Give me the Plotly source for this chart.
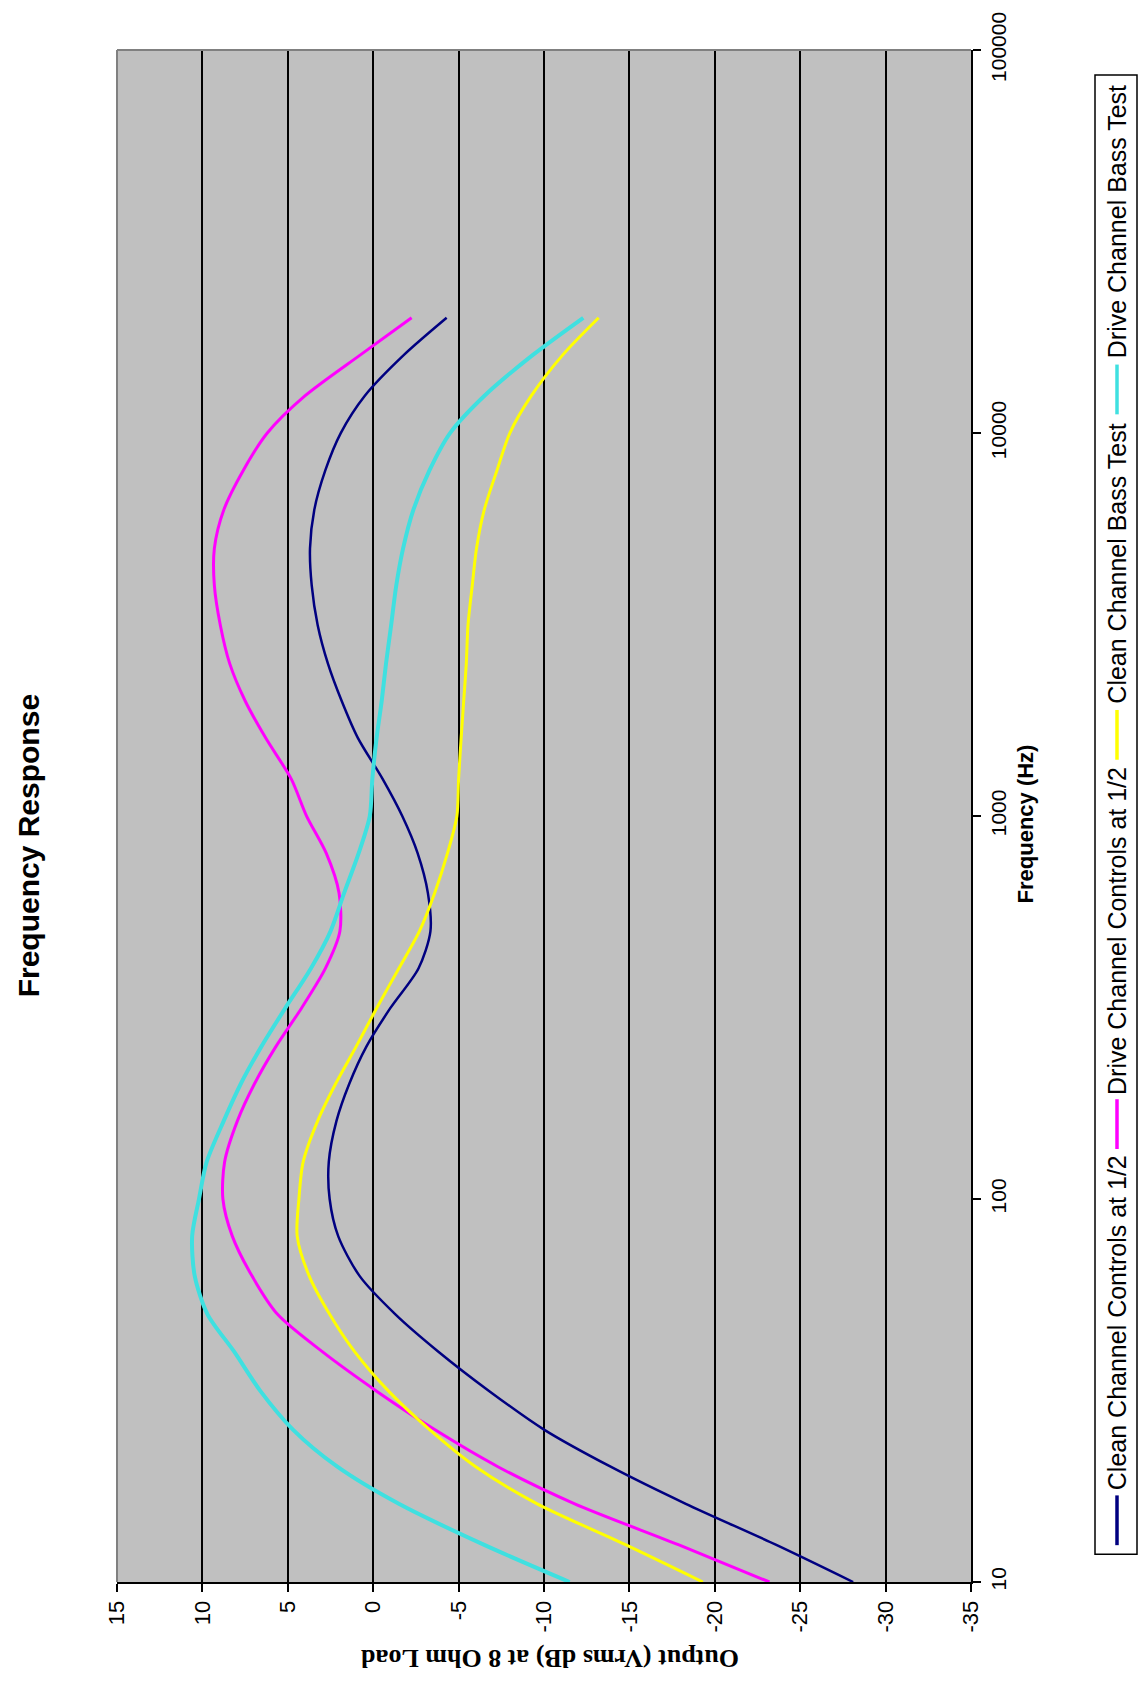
import plotly.graph_objects as go

# Test frequencies (Hz)
freq_hz = [10, 12.5, 16, 20, 25, 31.5, 40, 50, 63, 80, 100, 125, 160, 200, 250, 315,
           400, 500, 630, 800, 1000, 1250, 1600, 2000, 2500, 3150, 4000, 5000, 6300,
           8000, 10000, 12500, 16000, 20000]

# Output level (Vrms dB) at 8 Ohm load for each test
clean_controls_half = [-28.1, -23.6, -18.3, -13.9, -10.0, -6.8, -3.8, -1.3, 0.8, 2.05,
                       2.55, 2.6, 2.15, 1.4, 0.4, -1.0, -2.65, -3.35, -3.2, -2.6, -1.7,
                       -0.55, 0.9, 1.85, 2.65, 3.25, 3.6, 3.7, 3.45, 2.8, 1.9, 0.5, -1.8, -4.3]
drive_controls_half = [-23.2, -17.9, -11.8, -7.3, -3.6, -0.2, 3.0, 5.6, 7.1, 8.25,
                       8.8, 8.7, 7.95, 6.95, 5.7, 4.2, 2.8, 1.95, 2.0, 2.75, 3.9,
                       4.8, 6.3, 7.5, 8.4, 8.95, 9.3, 9.3, 8.75, 7.6, 6.2, 4.0, 0.75, -2.25]
clean_bass_test = [-19.3, -14.8, -9.6, -6.0, -3.3, -0.9, 1.1, 2.55, 3.75, 4.45,
                   4.35, 4.1, 3.25, 2.2, 1.0, -0.2, -1.5, -2.7, -3.6, -4.35, -4.9,
                   -5.0, -5.15, -5.3, -5.45, -5.55, -5.8, -6.05, -6.5, -7.25, -8.0, -9.25, -11.1, -13.2]
drive_bass_test = [-11.5, -6.5, -1.5, 2.1, 4.7, 6.6, 8.15, 9.7, 10.45, 10.6,
                   10.2, 9.75, 8.75, 7.75, 6.55, 5.15, 3.65, 2.5, 1.7, 0.85, 0.2,
                   0.05, -0.2, -0.5, -0.75, -1.05, -1.35, -1.75, -2.35, -3.3, -4.5, -6.5, -9.35, -12.3]

series_names = ["Clean Channel Controls at 1/2", "Drive Channel Controls at 1/2",
                "Clean Channel Bass Test", "Drive Channel Bass Test"]
series_values = [clean_controls_half, drive_controls_half, clean_bass_test, drive_bass_test]
series_colors = ["#000080", "#FF00FF", "#FFFF00", "#3FE0E0"]
series_widths = [2.5, 3, 3, 4]

db_ticks = [15, 10, 5, 0, -5, -10, -15, -20, -25, -30, -35]
freq_ticks = [10, 100, 1000, 10000, 100000]
freq_tick_text = ["10", "100", "1000", "10000", "100000"]

W, H = 1138, 1684
PL, PR, PT, PB = 117, 971, 43, 1582  # plot-area pixel edges


def px_x(px):
    return (px - PL) / (PR - PL)


def px_y(py):
    return (PB - py) / (PB - PT)


SANS = "Liberation Sans, Arial, sans-serif"

fig = go.Figure()
for name, vals, col, lw in zip(series_names, series_values, series_colors, series_widths):
    # chart is laid out sideways: output level runs across, frequency runs up
    fig.add_trace(go.Scatter(x=vals, y=freq_hz, mode="lines", name=name,
                             line=dict(color=col, width=lw, shape="spline", smoothing=0.8),
                             showlegend=False))

fig.update_layout(
    width=W, height=H,
    margin=dict(l=PL, r=W - PR, t=PT, b=H - PB, pad=0),
    paper_bgcolor="white",
    plot_bgcolor="#C0C0C0",
    showlegend=False,
    xaxis=dict(range=[15, -35], tickmode="array", tickvals=db_ticks,
               ticktext=[str(v) for v in db_ticks], tickangle=-90,
               tickfont=dict(family=SANS, size=22, color="black"),
               showgrid=True, gridcolor="black", gridwidth=1.5,
               zeroline=False, showline=True, linecolor="black", linewidth=2,
               ticks="outside", ticklen=8, tickwidth=1.5, tickcolor="black",
               ticklabeloverflow="allow"),
    yaxis=dict(type="log", range=[1, 5.0002], side="right", tickmode="array",
               tickvals=freq_ticks, ticktext=freq_tick_text, tickangle=-90,
               tickfont=dict(family=SANS, size=21, color="black"),
               showgrid=False, zeroline=False, showline=True, linecolor="black",
               linewidth=2, ticks="outside", ticklen=8, tickwidth=1.5, tickcolor="black",
               ticklabeloverflow="allow"),
)

# grey frame on the two open sides of the plot area
fig.add_shape(type="line", xref="paper", yref="paper", x0=0, x1=0, y0=0, y1=1,
              line=dict(color="#808080", width=2), layer="above")
fig.add_shape(type="line", xref="paper", yref="paper", x0=0, x1=1, y0=1, y1=1,
              line=dict(color="#808080", width=2), layer="above")

# chart title and axis titles, all set sideways
fig.add_annotation(text="<b>Frequency Response</b>", xref="paper", yref="paper",
                   x=px_x(28), y=px_y(843), textangle=-90, showarrow=False,
                   xanchor="center", yanchor="middle",
                   font=dict(family=SANS, size=30, color="black"))
fig.add_annotation(text="<b>Frequency (Hz)</b>", xref="paper", yref="paper",
                   x=px_x(1025), y=px_y(821), textangle=-90, showarrow=False,
                   xanchor="center", yanchor="middle",
                   font=dict(family=SANS, size=22, color="black"))
fig.add_annotation(text="<b>Output (Vrms dB) at 8 Ohm Load</b>", xref="paper", yref="paper",
                   x=px_x(550), y=px_y(1659), textangle=180, showarrow=False,
                   xanchor="center", yanchor="middle",
                   font=dict(family="Liberation Serif, Times New Roman, serif", size=26, color="black"))

# legend box drawn sideways along the right edge
LEG_X0, LEG_X1 = 1095, 1137
LEG_Y0, LEG_Y1 = 68, 1554
LEG_CX = 1117
fig.add_shape(type="rect", xref="paper", yref="paper",
              x0=px_x(LEG_X0), x1=px_x(LEG_X1), y0=px_y(LEG_Y1), y1=px_y(LEG_Y0),
              line=dict(color="black", width=1.5), fillcolor="white", layer="above")

legend_sample = [(1545, 1495), (1147, 1097), (756, 706), (409, 359)]
legend_text_mid = [1322, 928, 559, 216]
for name, col, (s0, s1), tm in zip(series_names, series_colors, legend_sample, legend_text_mid):
    fig.add_shape(type="line", xref="paper", yref="paper",
                  x0=px_x(LEG_CX), x1=px_x(LEG_CX), y0=px_y(s0), y1=px_y(s1),
                  line=dict(color=col, width=3.5), layer="above")
    fig.add_annotation(text=name, xref="paper", yref="paper",
                       x=px_x(LEG_CX), y=px_y(tm), textangle=-90, showarrow=False,
                       xanchor="center", yanchor="middle",
                       font=dict(family=SANS, size=25, color="black"))

fig.write_html("out.html")
